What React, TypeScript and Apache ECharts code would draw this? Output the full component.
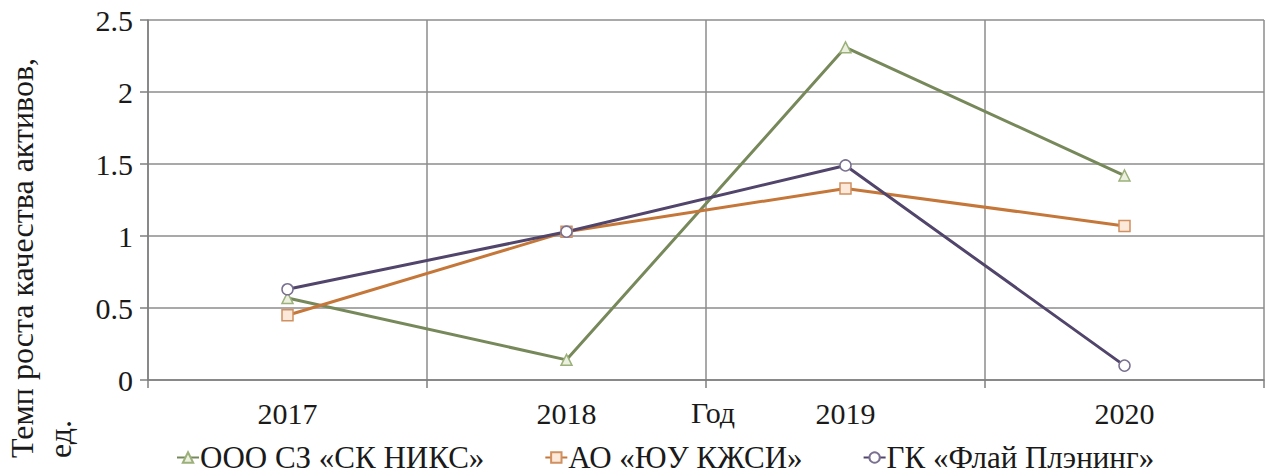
import React, { useEffect, useRef } from "react";
import * as echarts from "echarts";

const years = ["2017", "2018", "2019", "2020"];
const nixValues = [0.57, 0.14, 2.31, 1.42];
const kzhsiValues = [0.45, 1.03, 1.33, 1.07];
const flyValues = [0.63, 1.03, 1.49, 0.1];
const seriesNames = ["ООО СЗ «СК НИКС»", "АО «ЮУ КЖСИ»", "ГК «Флай Плэнинг»"];
const yTitle1 = "Темп роста качества активов,";
const yTitle2 = "ед.";
const xTitle = "Год";

const FONT = "Liberation Serif";

export default function App() {
  const ref = useRef<HTMLDivElement>(null);
  useEffect(() => {
    if (!ref.current) return;
    const chart = echarts.init(ref.current, undefined, { renderer: "svg" });
    const mk = (name: string, data: number[], color: string, fill: string, border: string, symbol: string, size: number) => ({
      name,
      type: "line",
      data,
      symbol,
      symbolSize: size,
      lineStyle: { color, width: 3 },
      itemStyle: { color: fill, borderColor: border, borderWidth: 1.5 },
      z: 3,
    });
    chart.setOption({
      animation: false,
      backgroundColor: "#ffffff",
      textStyle: { fontFamily: FONT },
      grid: { left: 148, right: 3, top: 20, bottom: 96 },
      xAxis: {
        type: "category",
        data: years,
        boundaryGap: true,
        axisLine: { show: true, lineStyle: { color: "#7f7f7f", width: 1.5 } },
        axisTick: { show: true, length: 8, lineStyle: { color: "#7f7f7f", width: 1.5 } },
        splitLine: { show: true, lineStyle: { color: "#8c8c8c", width: 1.5 } },
        axisLabel: { color: "#1a1a1a", fontSize: 30, fontFamily: FONT, margin: 18 },
      },
      yAxis: {
        type: "value",
        min: 0,
        max: 2.5,
        interval: 0.5,
        axisLine: { show: true, lineStyle: { color: "#7f7f7f", width: 1.5 } },
        axisTick: { show: true, length: 8, lineStyle: { color: "#7f7f7f", width: 1.5 } },
        splitLine: { show: true, lineStyle: { color: "#8c8c8c", width: 1.5 } },
        axisLabel: { color: "#1a1a1a", fontSize: 30, fontFamily: FONT, margin: 15 },
      },
      legend: {
        top: 442,
        left: 176,
        padding: 0,
        itemGap: 60,
        itemWidth: 22,
        itemHeight: 13,
        textStyle: { color: "#1a1a1a", fontSize: 31, fontFamily: FONT, padding: [0, 0, 0, -4] },
        data: seriesNames,
      },
      graphic: [
        {
          type: "text",
          x: 22,
          y: 458,
          rotation: Math.PI / 2,
          style: { text: yTitle1, fontSize: 32, fontFamily: FONT, fill: "#1a1a1a", align: "left", verticalAlign: "middle" },
        },
        {
          type: "text",
          x: 60,
          y: 458,
          rotation: Math.PI / 2,
          style: { text: yTitle2, fontSize: 32, fontFamily: FONT, fill: "#1a1a1a", align: "left", verticalAlign: "middle" },
        },
        {
          type: "text",
          x: 713,
          y: 412,
          style: { text: xTitle, fontSize: 30, fontFamily: FONT, fill: "#1a1a1a", align: "center", verticalAlign: "middle" },
        },
      ],
      series: [
        mk(seriesNames[0], nixValues, "#77895a", "#ebf1de", "#9bb07a", "triangle", 11),
        mk(seriesNames[1], kzhsiValues, "#c5773a", "#fde9d9", "#d09060", "rect", 11),
        mk(seriesNames[2], flyValues, "#51456b", "#ffffff", "#7a7090", "circle", 11),
      ],
    });
    return () => chart.dispose();
  }, []);
  return <div ref={ref} style={{ position: "fixed", left: 0, top: 0, width: 1267, height: 476 }} />;
}
